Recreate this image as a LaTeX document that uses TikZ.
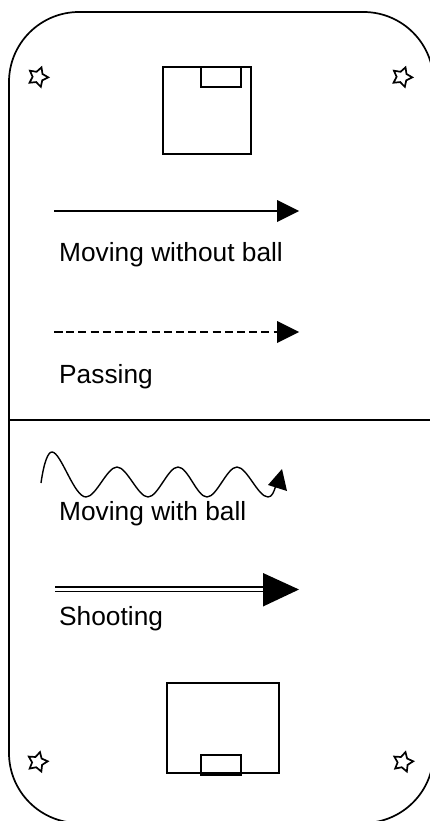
\documentclass[tikz,border=0pt]{standalone}
\usepackage{fontspec}
\setmainfont{Liberation Sans}
\usetikzlibrary{shapes.geometric}
\tikzset{
  x=1pt,y=-1pt,
  ink/.style={draw=black,line width=1.7pt},
  wave ink/.style={draw=black,line width=1.4pt},
  label text/.style={anchor=base west,inner sep=0pt,font=\fontsize{26.3}{30}\selectfont},
  tip/.style={fill=black,draw=none},
  playerstar/.style={star,star points=5,star point ratio=1.9,draw=black,line width=1.7pt,minimum size=20.5pt,inner sep=0pt},
}
\begin{document}
\begin{tikzpicture}
\useasboundingbox (0,0) rectangle (430,821);
\begin{scope}
\clip (0,0) rectangle (430,821);
\draw[ink,rounded corners=70pt] (9,12) rectangle (433.5,823);
\end{scope}
\coordinate (divl) at (9,420); \coordinate (divr) at (430,420);
\draw[ink] (divl) -- (divr);
\node[playerstar,rotate=-20] (s1) at (38,77) {};
\node[playerstar,rotate=-20] (s2) at (402,77) {};
\node[playerstar,rotate=-14] (s3) at (37.5,762) {};
\node[playerstar,rotate=-14] (s4) at (403,762) {};
\draw[ink] (163,67) rectangle (251,154);
\draw[ink] (201,67) rectangle (241,87);
\draw[ink] (167,683) rectangle (279,773);
\draw[ink] (201,755) rectangle (241,774);
\draw[line width=3pt] (200,774.5) -- (242,774.5);
\coordinate (a1) at (54,211); \coordinate (a1e) at (278,211);
\draw[ink] (a1) -- (a1e);
\fill[tip] (277,200) -- (299,211) -- (277,222) -- cycle;
\node[label text] (t1) at (59,261) {Moving without ball};
\coordinate (a2) at (54,332); \coordinate (a2e) at (277,332);
\draw[ink,dash pattern=on 8pt off 4.2pt] (a2) -- (a2e);
\draw[line width=2.6pt] (54,332) -- (63,332);
\fill[tip] (277,321) -- (299,332) -- (277,343) -- cycle;
\node[label text] (t2) at (59,383.5) {Passing};
\draw[wave ink] (41,483) .. controls (44,462) and (48,452) .. (52,452)
 .. controls (61,452) and (74,497) .. (86,497)
 .. controls (96,497) and (107,467) .. (117,467)
 .. controls (127,467) and (138,497) .. (148,497)
 .. controls (158,497) and (168,467) .. (178,467)
 .. controls (188,467) and (197,497) .. (207,497)
 .. controls (217,497) and (227,467) .. (237,467)
 .. controls (247,467) and (258,497) .. (268,497)
 .. controls (272,497) and (274,492) .. (276,485);
\fill[tip] (282,469) -- (287,491) -- (268,485) -- cycle;
\node[label text] (t3) at (59,520) {Moving with ball};
\draw[ink] (55,586.8) -- (265,586.8);
\draw[ink] (55,591.6) -- (265,591.6);
\fill[tip] (263,573) -- (299,589.5) -- (263,606.5) -- cycle;
\node[label text] (t4) at (59,625) {Shooting};
\end{tikzpicture}
\end{document}
